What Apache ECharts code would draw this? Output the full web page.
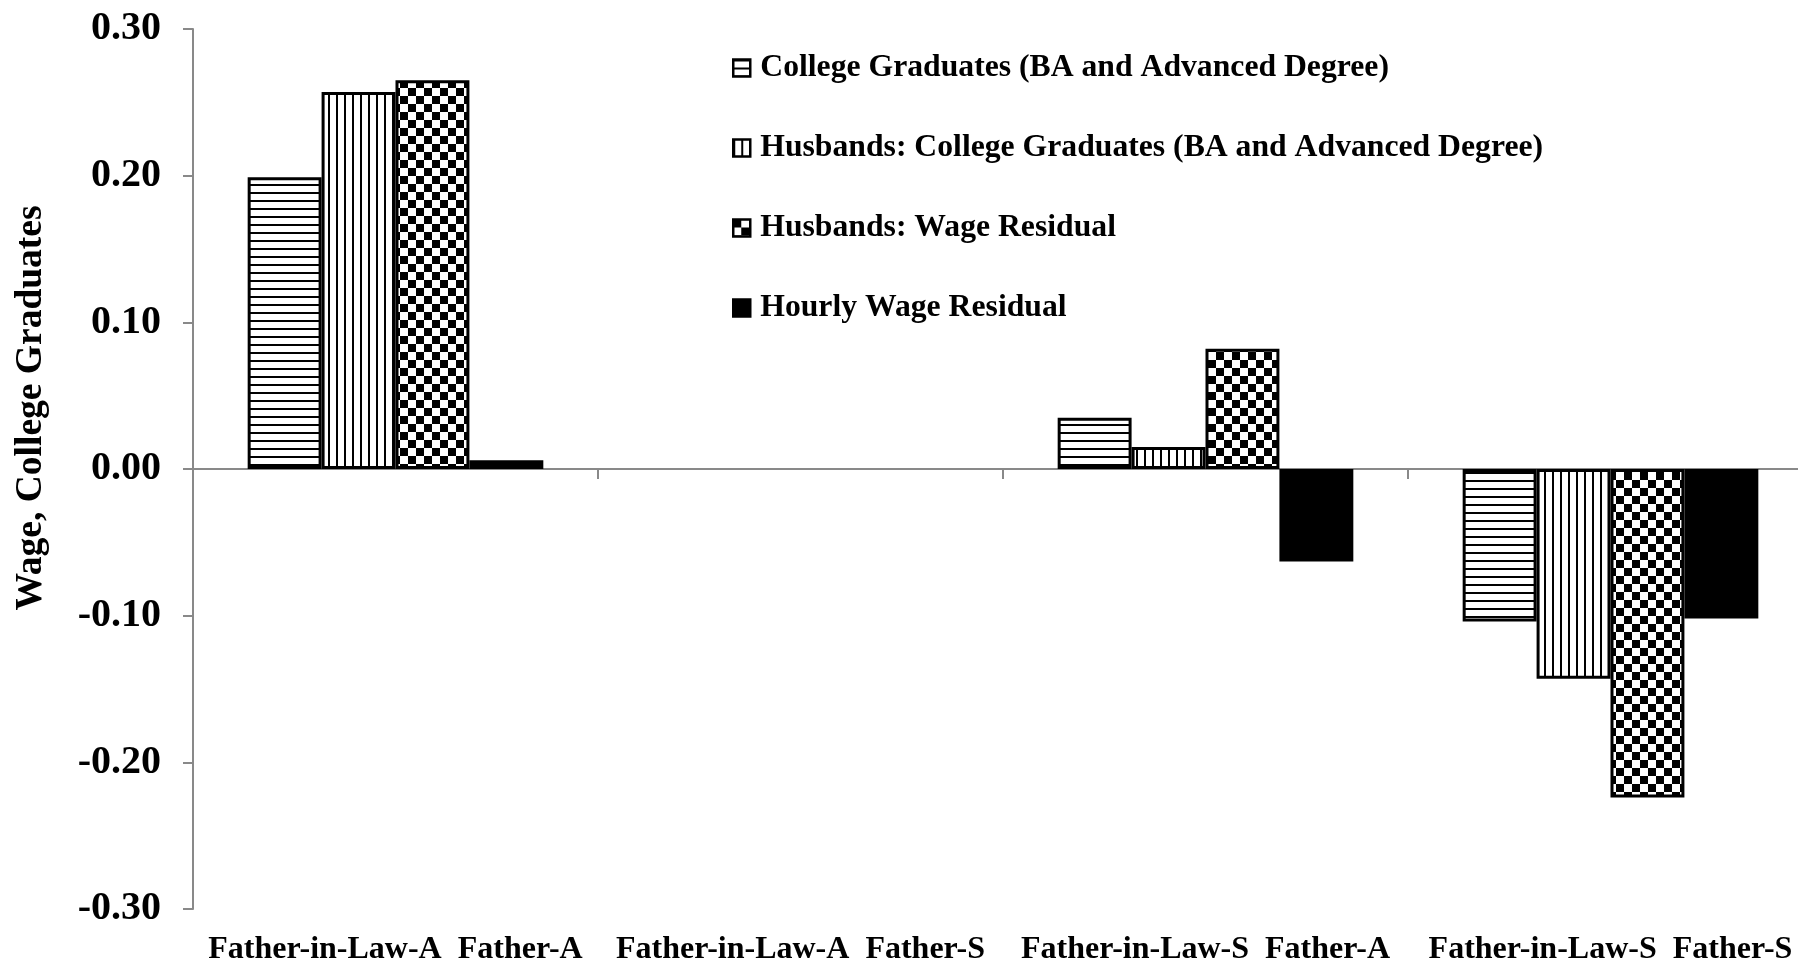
<!DOCTYPE html>
<html>
<head>
    <meta charset="utf-8" />
    <title>Wage, College Graduates</title>
</head>
<body style="margin:0;background:#fff;overflow:hidden;">
<script src="https://cdn.jsdelivr.net/npm/echarts@6.0.0/dist/echarts.min.js"></script>
<!-- a bit wider than the window: the plot is cut off at the right in the original -->
<div id="main" style="width: 1813px;height:966px;"></div>
<script type="text/javascript">
    // categories and series values
    var categories = [
        'Father-in-Law-A  Father-A',
        'Father-in-Law-A  Father-S',
        'Father-in-Law-S  Father-A',
        'Father-in-Law-S  Father-S'
    ];
    var seriesNames = [
        'College Graduates (BA and Advanced Degree)',
        'Husbands: College Graduates (BA and Advanced Degree)',
        'Husbands: Wage Residual',
        'Hourly Wage Residual'
    ];
    var collegeGrad = [0.199, null, 0.035, -0.104];
    var husbandsCollege = [0.257, null, 0.015, -0.143];
    var husbandsWage = [0.265, null, 0.082, -0.224];
    var hourlyWage = [0.006, null, -0.063, -0.102];
    var yTicks = [-0.3, -0.2, -0.1, 0, 0.1, 0.2, 0.3];

    var serif = '"Times New Roman", "Liberation Serif", serif';
    var axisGray = '#898989';

    // little canvases used as fill patterns
    function makePattern(kind) {
        var c = document.createElement('canvas');
        var size = kind === 'checker' ? 16 : 8;
        c.width = size;
        c.height = size;
        var ctx = c.getContext('2d');
        ctx.fillStyle = '#fff';
        ctx.fillRect(0, 0, size, size);
        ctx.fillStyle = '#000';
        if (kind === 'hlines') {
            ctx.fillRect(0, 0, size, 2);
        } else if (kind === 'vlines') {
            ctx.fillRect(0, 0, 2, size);
        } else if (kind === 'checker') {
            ctx.fillRect(0, 0, 8, 8);
            ctx.fillRect(8, 8, 8, 8);
        }
        return { image: c, repeat: 'repeat' };
    }

    var fills = [makePattern('hlines'), makePattern('vlines'), makePattern('checker'), '#000'];
    var values = [collegeGrad, husbandsCollege, husbandsWage, hourlyWage];

    var series = seriesNames.map(function (name, i) {
        return {
            name: name,
            type: 'bar',
            xAxisIndex: 0,
            barGap: '0%',
            barCategoryGap: '27%',
            itemStyle: {
                color: fills[i],
                borderColor: '#000',
                borderWidth: 3
            },
            data: values[i]
        };
    });

    var myChart = echarts.init(document.getElementById('main'));
    var option = {
        animation: false,
        backgroundColor: '#fff',
        grid: { left: 193, right: 0, top: 29, bottom: 52 },
        legend: {
            orient: 'vertical',
            left: 727,
            top: 47,
            icon: 'rect',
            itemWidth: 17,
            itemHeight: 17,
            itemGap: 48,
            itemStyle: { borderColor: '#000', borderWidth: 2.5 },
            textStyle: {
                fontFamily: serif,
                fontWeight: 'bold',
                fontSize: 31.7,
                lineHeight: 31,
                color: '#000',
                padding: [0, 0, 0, 5]
            },
            data: seriesNames
        },
        xAxis: [
            {
                type: 'category',
                data: categories,
                axisLine: { onZero: true, lineStyle: { color: axisGray, width: 2 } },
                axisTick: { show: true, length: 10, lineStyle: { color: axisGray, width: 2 } },
                axisLabel: { show: false },
                splitLine: { show: false }
            },
            {
                type: 'category',
                data: categories,
                position: 'bottom',
                axisLine: { show: false, onZero: false },
                axisTick: { show: false },
                axisLabel: {
                    interval: 0,
                    margin: 25,
                    fontFamily: serif,
                    fontWeight: 'bold',
                    fontSize: 32,
                    color: '#000'
                }
            }
        ],
        yAxis: {
            type: 'value',
            min: yTicks[0],
            max: yTicks[yTicks.length - 1],
            interval: 0.1,
            name: 'Wage, College Graduates',
            nameLocation: 'middle',
            nameGap: 143,
            nameRotate: 90,
            nameTextStyle: {
                fontFamily: serif,
                fontWeight: 'bold',
                fontSize: 37.5,
                color: '#000',
                padding: [0, 0, 0, 122]
            },
            axisLine: { show: true, lineStyle: { color: axisGray, width: 2 } },
            axisTick: { show: true, length: 10, lineStyle: { color: axisGray, width: 2 } },
            splitLine: { show: false },
            axisLabel: {
                margin: 32,
                fontFamily: serif,
                fontWeight: 'bold',
                fontSize: 40,
                color: '#000',
                formatter: function (v) { return v.toFixed(2); }
            }
        },
        series: series
    };
    myChart.setOption(option);
</script>
</body>
</html>
